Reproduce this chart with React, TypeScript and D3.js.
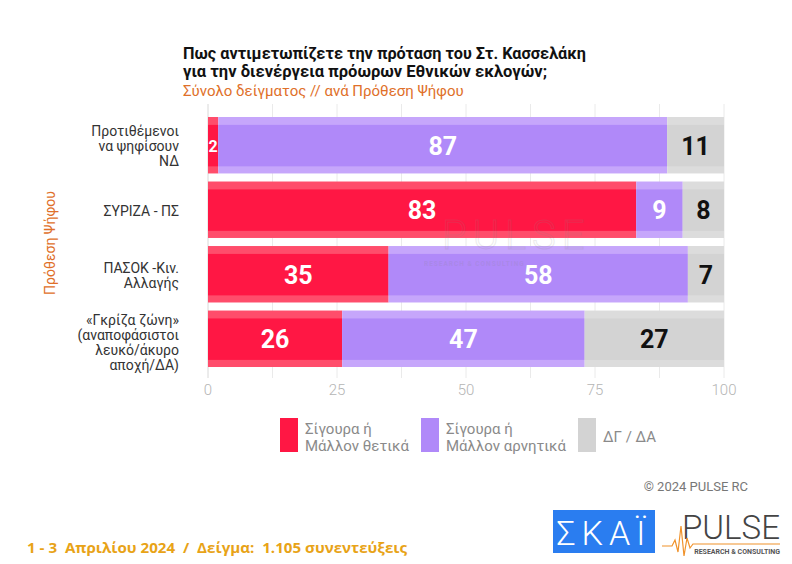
import React from "react";
import * as d3 from "d3";

const categories: string[][] = [
  ["Προτιθέμενοι", "να ψηφίσουν", "ΝΔ"],
  ["ΣΥΡΙΖΑ - ΠΣ"],
  ["ΠΑΣΟΚ -Κιν.", "Αλλαγής"],
  ["«Γκρίζα ζώνη»", "(αναποφάσιστοι", "λευκό/άκυρο", "αποχή/ΔΑ)"],
];
const positive = [2, 83, 35, 26];
const negative = [87, 9, 58, 47];
const dontKnow = [11, 8, 7, 27];
const seriesNames = [
  ["Σίγουρα ή", "Μάλλον θετικά"],
  ["Σίγουρα ή", "Μάλλον αρνητικά"],
  ["ΔΓ / ΔΑ"],
];
const xTicks = [0, 25, 50, 75, 100];
const gridTicks = [0, 12.5, 25, 37.5, 50, 62.5, 75, 87.5, 100];

const colors = ["#FF1744", "#B089F9", "#D3D3D3"];
const lightColors = ["#FF4D6B", "#C6A6FB", "#DCDCDC"];
const labelColors = ["#FFFFFF", "#FFFFFF", "#111111"];

const W = 792;
const H = 564;

export default function App() {
  const x = d3.scaleLinear().domain([0, 100]).range([208, 724]);
  const y = d3
    .scaleBand<number>()
    .domain(d3.range(categories.length))
    .range([117, 367])
    .paddingInner(0.125)
    .paddingOuter(0);
  const series = [positive, negative, dontKnow];
  const stack = categories.map((_, i) => {
    let acc = 0;
    return series.map((s, k) => {
      const start = acc;
      acc += s[i];
      return { k, start, end: acc, v: s[i] };
    });
  });
  const bh = y.bandwidth();
  const inset = bh * 0.14;
  const font = "Roboto, 'Noto Sans', sans-serif";

  return (
    <svg width={W} height={H} style={{ display: "block", position: "absolute", left: 0, top: 0 }}>
      <rect width={W} height={H} fill="#fff" />
      {/* Title */}
      <text x={183} y={59} fontFamily={font} fontWeight={700} fontSize={16.5} fill="#111" textLength={403} lengthAdjust="spacingAndGlyphs">
        Πως αντιμετωπίζετε την πρόταση του Στ. Κασσελάκη
      </text>
      <text x={183} y={77} fontFamily={font} fontWeight={700} fontSize={16.5} fill="#111" textLength={364} lengthAdjust="spacingAndGlyphs">
        για την διενέργεια πρόωρων Εθνικών εκλογών;
      </text>
      <text x={183} y={96} fontFamily={font} fontSize={15} fill="#E0702A">
        Σύνολο δείγματος // ανά Πρόθεση Ψήφου
      </text>

      {/* gridlines */}
      {gridTicks.map((t) => (
        <line
          key={t}
          x1={x(t)}
          x2={x(t)}
          y1={104}
          y2={378}
          stroke={t === 0 ? "#D8D8D8" : "#EAEAEA"}
          strokeWidth={1}
        />
      ))}

      {/* bars */}
      {stack.map((segs, i) => (
        <g key={i}>
          {segs.map((s) => (
            <g key={s.k}>
              <rect
                x={x(s.start)}
                y={y(i)!}
                width={x(s.end) - x(s.start)}
                height={bh}
                fill={lightColors[s.k]}
              />
              <rect
                x={x(s.start)}
                y={y(i)! + inset}
                width={x(s.end) - x(s.start)}
                height={bh - inset * 1.9}
                fill={colors[s.k]}
              />
              <text
                x={(x(s.start) + x(s.end)) / 2}
                y={y(i)! + bh / 2 + 1}
                textAnchor="middle"
                dominantBaseline="central"
                fontFamily={font}
                fontWeight={700}
                fontSize={x(s.end) - x(s.start) < 20 ? 16 : 25}
                fill={labelColors[s.k]}
              >
                {s.v}
              </text>
            </g>
          ))}
        </g>
      ))}

      {/* watermark */}
      <text x={442} y={249} fontFamily={font} fontWeight={300} fontSize={40} fill="none" stroke="#888" strokeWidth={1} opacity={0.16} letterSpacing={6}>
        PULSE
      </text>
      <text x={424} y={266} fontFamily={font} fontWeight={700} fontSize={6.5} fill="#888" opacity={0.16} letterSpacing={1}>
        RESEARCH &amp; CONSULTING
      </text>

      {/* category labels */}
      {categories.map((lines, i) => {
        const cy = y(i)! + bh / 2 + (lines.length > 3 ? 4 : 1);
        const lh = 15;
        const top = cy - ((lines.length - 1) * lh) / 2;
        return (
          <text key={i} textAnchor="end" fontFamily={font} fontSize={14} fill="#333">
            {lines.map((l, j) => (
              <tspan key={j} x={179} y={top + j * lh} dominantBaseline="central">
                {l}
              </tspan>
            ))}
          </text>
        );
      })}

      {/* y-axis title */}
      <text
        transform="translate(55,243) rotate(-90)"
        textAnchor="middle"
        fontFamily={font}
        fontSize={14}
        fill="#E0702A"
      >
        Πρόθεση Ψήφου
      </text>

      {/* x axis labels */}
      {xTicks.map((t) => (
        <text
          key={t}
          x={x(t)}
          y={395}
          textAnchor="middle"
          fontFamily={font}
          fontWeight={300}
          fontSize={15}
          fill="#B5B5B5"
        >
          {t}
        </text>
      ))}

      {/* legend */}
      {seriesNames.map((lines, k) => {
        const lx = [280, 421, 578][k];
        return (
          <g key={k}>
            <rect x={lx} y={418} width={18} height={34} fill={colors[k]} />
            {lines.map((l, j) => (
              <text
                key={j}
                x={lx + 25}
                y={lines.length === 1 ? 437 : 429 + j * 17}
                dominantBaseline="central"
                fontFamily={font}
                fontSize={15}
                fill="#8A8A8A"
              >
                {l}
              </text>
            ))}
          </g>
        );
      })}

      {/* copyright */}
      <text x={748} y={491} textAnchor="end" fontFamily={font} fontSize={13} fill="#777">
        © 2024 PULSE RC
      </text>

      {/* footer */}
      <text
        x={27}
        y={553}
        fontFamily="'Open Sans', sans-serif"
        fontWeight={700}
        fontSize={14}
        fill="#E8A317"
        style={{ whiteSpace: "pre" }}
        textLength={380}
        lengthAdjust="spacingAndGlyphs"
      >
        {"1 - 3  Απριλίου 2024  /  Δείγμα:  1.105 συνεντεύξεις"}
      </text>

      {/* SKAI logo */}
      <rect x={553} y={510} width={102} height={43} fill="#2A7DF0" />
      <text x={604} y={545} textAnchor="middle" fontFamily={font} fontWeight={300} fontSize={34} fill="#fff" letterSpacing={6}>
        ΣΚΑΪ
      </text>

      {/* PULSE logo */}
      <text x={682} y={539} fontFamily={font} fontWeight={300} fontSize={33} fill="#444" textLength={98} lengthAdjust="spacingAndGlyphs">
        PULSE
      </text>
      <path
        d="M662,546 L672,546 L675,540 L678,552 L681,526 L684,556 L687,538 L690,548 L693,544 L780,544"
        fill="none"
        stroke="#F0922B"
        strokeWidth={1.2}
      />
      <text x={780} y={554} textAnchor="end" fontFamily={font} fontWeight={700} fontSize={7} fill="#555">
        RESEARCH &amp; CONSULTING
      </text>
    </svg>
  );
}
